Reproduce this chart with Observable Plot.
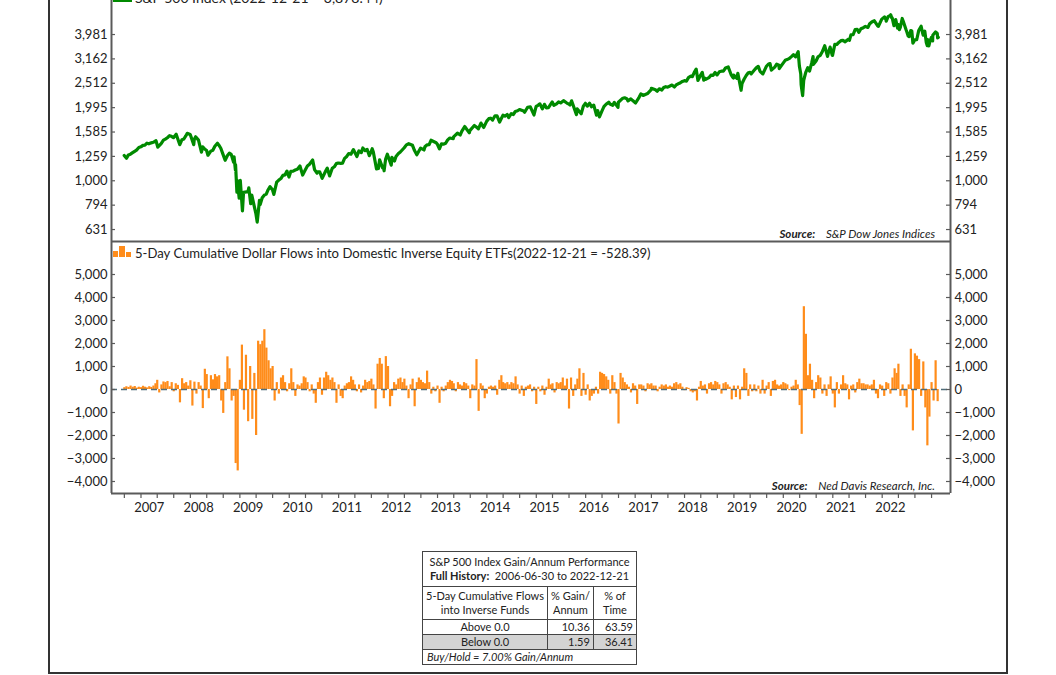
<!DOCTYPE html>
<html>
<head>
<meta charset="utf-8">
<script src="https://cdn.jsdelivr.net/npm/d3@7"></script>
<script src="https://cdn.jsdelivr.net/npm/@observablehq/plot@0.6"></script>
<style>
  html, body { margin: 0; padding: 0; background: #fff; }
  #wrap { position: relative; width: 1056px; height: 675px; overflow: hidden; font-family: Lato, "DejaVu Sans", sans-serif; color: #222; }
  #wrap svg { position: absolute; left: 0; overflow: visible; }
  .abs { position: absolute; white-space: nowrap; }
  .src { font-style: italic; font-size: 11.5px; color: #222; }
  .src b { font-weight: 700; margin-right: 8px; }
  table.perf { border-collapse: collapse; font-family: Lato, sans-serif; font-size: 11px; color: #222; }
  table.perf td { border: 1px solid #444; padding: 0 3px; line-height: 14px; }
</style>
</head>
<body>
<div id="wrap"></div>
<script>
// ---------------- data ----------------
// S&P 500: month-end closes and notable turning points
const spDates = ["2006-06-30","2006-07-17","2006-07-31","2006-08-31","2006-09-29","2006-10-31","2006-11-30","2006-12-29",
"2007-01-31","2007-02-20","2007-03-05","2007-03-30","2007-04-30","2007-05-31","2007-06-29","2007-07-19","2007-08-15","2007-08-31","2007-09-28","2007-10-09","2007-10-31","2007-11-26","2007-11-30","2007-12-10","2007-12-31",
"2008-01-22","2008-01-31","2008-02-29","2008-03-10","2008-03-31","2008-04-30","2008-05-19","2008-05-30","2008-06-30","2008-07-15","2008-07-31","2008-08-29","2008-09-15","2008-09-19","2008-09-29","2008-09-30","2008-10-10","2008-10-13","2008-10-27","2008-11-04","2008-11-20","2008-11-28","2008-12-31",
"2009-01-06","2009-01-20","2009-01-28","2009-02-27","2009-03-09","2009-03-26","2009-03-31","2009-04-30","2009-05-29","2009-06-12","2009-06-30","2009-07-10","2009-07-31","2009-08-31","2009-09-30","2009-10-30","2009-11-30","2009-12-31",
"2010-01-19","2010-02-08","2010-02-26","2010-03-31","2010-04-23","2010-05-07","2010-05-25","2010-05-28","2010-06-30","2010-07-02","2010-07-30","2010-08-26","2010-09-30","2010-10-29","2010-11-30","2010-12-31",
"2011-01-31","2011-02-18","2011-03-16","2011-03-31","2011-04-29","2011-05-31","2011-06-16","2011-06-30","2011-07-07","2011-08-08","2011-08-31","2011-09-22","2011-09-30","2011-10-03","2011-10-27","2011-11-25","2011-11-30","2011-12-30",
"2012-01-31","2012-02-29","2012-04-02","2012-04-30","2012-06-01","2012-06-29","2012-07-31","2012-08-31","2012-09-14","2012-10-31","2012-11-15","2012-11-30","2012-12-31",
"2013-01-31","2013-02-28","2013-03-28","2013-04-30","2013-05-21","2013-06-24","2013-06-28","2013-07-31","2013-08-30","2013-09-30","2013-10-31","2013-11-29","2013-12-31",
"2014-02-03","2014-02-28","2014-03-31","2014-04-30","2014-05-30","2014-06-30","2014-07-31","2014-08-29","2014-09-18","2014-10-15","2014-10-31","2014-11-28","2014-12-16","2014-12-31",
"2015-01-30","2015-02-27","2015-03-31","2015-04-30","2015-05-21","2015-06-30","2015-07-20","2015-08-25","2015-08-31","2015-09-29","2015-10-30","2015-11-30","2015-12-31",
"2016-01-20","2016-01-29","2016-02-11","2016-02-29","2016-03-31","2016-04-29","2016-05-31","2016-06-27","2016-06-30","2016-07-29","2016-08-31","2016-09-30","2016-11-04","2016-11-30","2016-12-30",
"2017-01-31","2017-02-28","2017-03-31","2017-04-28","2017-05-31","2017-06-30","2017-07-31","2017-08-31","2017-09-29","2017-10-31","2017-11-30","2017-12-29",
"2018-01-26","2018-02-08","2018-02-28","2018-03-23","2018-03-29","2018-04-30","2018-05-31","2018-06-29","2018-07-31","2018-08-31","2018-09-20","2018-10-29","2018-10-31","2018-11-23","2018-11-30","2018-12-24","2018-12-31",
"2019-01-31","2019-02-28","2019-03-29","2019-04-30","2019-05-31","2019-06-28","2019-07-26","2019-08-05","2019-08-30","2019-09-30","2019-10-31","2019-11-29","2019-12-31",
"2020-01-31","2020-02-19","2020-02-28","2020-03-23","2020-03-31","2020-04-30","2020-05-29","2020-06-08","2020-06-30","2020-07-31","2020-09-02","2020-09-23","2020-09-30","2020-10-30","2020-11-30","2020-12-31",
"2021-01-29","2021-02-26","2021-03-31","2021-04-30","2021-05-28","2021-06-30","2021-07-30","2021-08-31","2021-09-30","2021-10-29","2021-11-30","2021-12-31",
"2022-01-03","2022-01-27","2022-02-23","2022-02-28","2022-03-08","2022-03-29","2022-04-29","2022-05-20","2022-05-31","2022-06-16","2022-06-30","2022-07-29","2022-08-16","2022-08-31","2022-09-30","2022-10-12","2022-10-31","2022-11-30","2022-12-13","2022-12-21"];
const spValues = [1270,1236,1277,1304,1336,1378,1401,1418,
1438,1460,1374,1421,1482,1531,1503,1553,1406,1474,1527,1565,1549,1407,1481,1515,1468,
1310,1379,1331,1273,1323,1386,1426,1400,1280,1214,1267,1283,1193,1255,1106,1166,899,1003,848,1005,752,896,903,
935,805,874,735,677,832,798,873,919,946,919,879,987,1021,1057,1036,1096,1115,
1150,1056,1104,1169,1217,1111,1074,1089,1031,1023,1102,1047,1141,1183,1181,1258,
1286,1343,1257,1326,1364,1345,1268,1321,1353,1119,1219,1130,1131,1099,1285,1159,1247,1258,
1312,1366,1419,1398,1278,1362,1379,1407,1466,1412,1353,1416,1426,
1498,1515,1569,1598,1669,1573,1606,1686,1633,1682,1757,1806,1848,
1742,1859,1872,1884,1924,1960,1931,2003,2011,1862,2018,2068,1973,2059,
1995,2105,2068,2086,2131,2063,2128,1868,1972,1882,2079,2080,2044,
1859,1940,1829,1932,2060,2065,2097,2001,2099,2174,2171,2168,2085,2199,2239,
2279,2364,2363,2384,2412,2423,2470,2472,2519,2575,2648,2674,
2873,2581,2714,2588,2641,2648,2705,2718,2816,2902,2931,2641,2712,2633,2760,2351,2507,
2704,2784,2834,2946,2752,2942,3026,2845,2926,2977,3038,3141,3231,
3226,3386,2954,2237,2585,2912,3044,3232,3100,3271,3580,3237,3363,3270,3622,3756,
3714,3811,3973,4181,4204,4298,4395,4523,4308,4605,4567,4766,
4797,4327,4226,4374,4170,4632,4132,3901,4132,3667,3785,4130,4305,3955,3586,3577,3872,4080,4019,3878];

// S&P 500: additional mid-month readings
const spMidDates = ["2006-08-15","2006-09-15","2006-10-16","2006-11-15","2006-12-15",
"2007-01-16","2007-04-16","2007-05-15","2007-06-14","2007-09-14",
"2008-02-15","2008-04-15","2008-06-13","2008-08-15",
"2009-04-15","2009-05-15","2009-08-14","2009-09-15","2009-10-15","2009-11-13","2009-12-15",
"2010-03-15","2010-06-14","2010-08-09","2010-09-15","2010-10-15","2010-11-16","2010-12-15",
"2011-01-14","2011-04-18","2011-05-16","2011-07-15","2011-08-22","2011-10-14","2011-12-19",
"2012-01-17","2012-03-16","2012-05-15","2012-07-24","2012-08-15","2012-10-22","2012-12-14",
"2013-01-15","2013-02-25","2013-04-18","2013-08-15","2013-09-18","2013-10-08","2013-11-15","2013-12-13",
"2014-01-15","2014-03-14","2014-04-11","2014-05-15","2014-06-16","2014-08-07","2014-11-14",
"2015-01-15","2015-03-11","2015-04-15","2015-06-15","2015-07-08","2015-10-15","2015-11-13","2015-12-14",
"2016-03-15","2016-04-20","2016-05-19","2016-08-15","2016-09-09","2016-10-14","2016-12-13",
"2017-01-19","2017-03-01","2017-04-13","2017-05-17","2017-06-15","2017-08-18","2017-09-15","2017-10-16","2017-11-15","2017-12-18",
"2018-01-12","2018-03-12","2018-04-06","2018-05-15","2018-06-15","2018-07-16","2018-08-15","2018-10-11","2018-10-24","2018-12-07",
"2019-01-15","2019-02-15","2019-03-08","2019-04-15","2019-05-13","2019-06-03","2019-07-15","2019-09-13","2019-10-02","2019-11-15","2019-12-13",
"2020-01-15","2020-03-09","2020-03-12","2020-03-16","2020-04-15","2020-05-13","2020-06-11","2020-07-15","2020-08-14","2020-10-12","2020-10-28","2020-11-16","2020-12-15",
"2021-01-15","2021-03-04","2021-03-15","2021-04-15","2021-05-12","2021-06-15","2021-07-19","2021-08-16","2021-09-03","2021-10-04","2021-11-18","2021-12-01","2021-12-15",
"2022-01-10","2022-01-14","2022-02-09","2022-03-15","2022-04-05","2022-04-26","2022-05-12","2022-06-08","2022-07-14","2022-08-26","2022-09-12","2022-09-23","2022-10-04","2022-10-21","2022-11-09","2022-11-10","2022-12-01","2022-12-16"];
const spMidValues = [1286,1321,1369,1397,1427,
1431,1468,1502,1522,1484,
1349,1334,1360,1298,
852,882,1004,1052,1096,1093,1107,
1150,1089,1127,1125,1176,1178,1235,
1293,1305,1329,1316,1123,1224,1205,
1293,1404,1330,1338,1405,1433,1413,
1472,1488,1541,1661,1725,1655,1798,1775,
1848,1841,1815,1870,1937,1910,2039,
1992,2040,2106,2084,2046,2023,2023,2012,
2015,2102,2040,2190,2128,2133,2271,
2263,2396,2329,2357,2432,2426,2500,2557,2565,2690,
2786,2783,2604,2711,2780,2798,2818,2728,2656,2633,
2610,2775,2743,2905,2812,2744,3014,3007,2887,3120,3169,
3289,2747,2481,2386,2783,2820,3002,3227,3373,3534,3271,3627,3695,
3768,3768,3969,4170,4063,4246,4258,4479,4535,4300,4704,4513,4710,
4670,4663,4587,4262,4525,4175,3930,4115,3790,4058,4110,3693,3791,3752,3748,3956,4076,3852];

// 5-day cumulative flows ($M), semi-monthly readings (1st and 16th of each month) from 2006-07-01
const flowStart = "2006-07-01";
const flowValues = [
80,120,90,150,100,130,60,100,80,140,100,70,120,90,150,
250,400,-150,200,330,300,350,120,300,-100,250,180,-580,470,250,
300,150,380,-720,320,-200,300,150,-830,880,650,-400,600,420,650,
550,600,-500,-1040,300,1420,900,-500,-300,-3220,-3540,400,1930,-900,1490,
-1400,1000,-1300,700,-2000,2100,1950,2100,2600,1800,1250,900,1000,-500,300,
-200,500,600,300,-100,250,900,300,-300,200,150,250,550,500,300,
-100,200,-200,-600,300,500,-250,500,750,
600,400,500,300,-600,200,-300,-400,150,250,300,550,400,200,-100,
200,-150,150,400,300,350,450,200,-850,1100,1350,1100,-400,1430,1000,
-750,-300,300,200,450,500,300,450,150,-400,200,450,-750,300,500,
400,300,250,800,300,-200,100,-100,150,-600,100,-100,150,300,400,
350,250,-100,300,200,150,300,250,150,-400,200,150,1300,-950,250,
150,-400,-200,100,150,100,150,-250,400,600,300,250,300,200,300,
250,550,200,-200,150,-300,100,150,200,-100,
100,-650,100,-100,150,-250,100,450,200,250,-150,300,250,300,500,
150,450,-850,500,-300,200,450,900,-300,700,-250,200,-500,-300,-200,
100,-200,750,700,650,550,400,-200,600,300,-200,-1500,700,500,300,
200,100,-150,250,150,-650,200,200,150,-100,250,200,250,150,150,
-100,100,200,150,200,100,150,100,250,300,200,250,100,-50,80,
50,-100,-150,-100,-500,100,350,150,200,-200,250,300,200,350,300,
200,-200,250,300,200,100,-450,150,-350,150,-450,100,900,700,
-300,200,-100,200,-100,150,-200,400,-200,150,300,-300,350,400,200,
150,200,300,250,200,-50,100,150,400,200,-700,-1950,3600,2400,600,
1100,400,-400,300,600,500,-200,200,-300,200,550,-200,-800,300,-200,
200,600,250,200,-450,150,200,-150,300,450,250,250,200,200,150,
200,400,-200,-400,200,150,-300,300,250,-200,500,900,700,1100,-300,
200,-300,-800,200,1750,-1800,1550,1450,1300,-300,1200,-800,-2450,-1200,300,
-500,1250,-528];

const spTicks = [630.957, 794.328, 1000, 1258.925, 1584.893, 1995.262, 2511.886, 3162.278, 3981.072];
const spTickLabels = ["631","794","1,000","1,259","1,585","1,995","2,512","3,162","3,981"];
const flowTicks = [-4000,-3000,-2000,-1000,0,1000,2000,3000,4000,5000];
const yearLabels = [2007,2008,2009,2010,2011,2012,2013,2014,2015,2016,2017,2018,2019,2020,2021,2022];

const spTitle = "S&P 500 Index (2022-12-21 = 3,878.44)";
const flowTitle = "5-Day Cumulative Dollar Flows into Domestic Inverse Equity ETFs(2022-12-21 = -528.39)";

// ---------------- build ----------------
const parse = d3.utcParse("%Y-%m-%d");
const sp = spDates.map((d, i) => ({date: parse(d), value: spValues[i]}))
  .concat(spMidDates.map((d, i) => ({date: parse(d), value: spMidValues[i]})))
  .sort((a, b) => a.date - b.date);
const fs = parse(flowStart);
const flows = flowValues.map((v, i) => ({date: d3.utcDay.offset(d3.utcMonth.offset(fs, Math.floor(i / 2)), (i % 2) * 15), value: v}));
const spTickData = spTicks.map((v, i) => ({v, label: spTickLabels[i]}));
const flowTickData = flowTicks.map(v => ({v, label: d3.format(",")(v)}));

const xDomain = [parse("2006-03-28"), parse("2023-03-21")];
const tickDates = d3.utcMonth.range(parse("2006-07-01"), parse("2023-01-01"), 4);
const yearDates = yearLabels.map(y => new Date(Date.UTC(y, 0, 1)));

const GREEN = "#008a00", ORANGE = "#ff8c1a", AX = "#5a5a5a";
const W = 1056, ML = 111, MR = 106;
const INNER = W - ML - MR;   // plot area width
const TICK = 4;              // inward tick length
const style = {fontFamily: "Lato, sans-serif", fontSize: "13px", color: "#222", background: "transparent"};

function yTickMarks(data) {
  return [
    Plot.tickY(data, {y: "v", insetRight: INNER - TICK, stroke: AX, strokeWidth: 1.2}),
    Plot.tickY(data, {y: "v", insetLeft: INNER - TICK, stroke: AX, strokeWidth: 1.2}),
    Plot.text(data, {y: "v", text: "label", frameAnchor: "left", textAnchor: "end", dx: -4, fill: "#222", fontSize: 13}),
    Plot.text(data, {y: "v", text: "label", frameAnchor: "right", textAnchor: "start", dx: 4, fill: "#222", fontSize: 13})
  ];
}

const spMin = 563.5, spMax = 5490;
const topPlot = Plot.plot({
  width: W, height: 241, marginLeft: ML, marginRight: MR, marginTop: 0, marginBottom: 0,
  style,
  x: {type: "utc", domain: xDomain, axis: null},
  y: {type: "log", domain: [spMin, spMax], axis: null, label: null},
  marks: [
    Plot.line(sp, {x: "date", y: "value", stroke: GREEN, strokeWidth: 3.2, strokeLinejoin: "round"}),
    Plot.ruleY([spMin], {stroke: AX, strokeWidth: 2}),
    Plot.ruleX([xDomain[0], xDomain[1]], {stroke: AX, strokeWidth: 2}),
    ...yTickMarks(spTickData)
  ]
});
topPlot.style.top = "0px";

const fMin = -4522, fMax = 6435;
const botPlot = Plot.plot({
  width: W, height: 290, marginLeft: ML, marginRight: MR, marginTop: 0, marginBottom: 38,
  style,
  x: {type: "utc", domain: xDomain, axis: null},
  y: {domain: [fMin, fMax], axis: null, label: null},
  marks: [
    Plot.ruleX(flows, {x: "date", y1: 0, y2: "value", stroke: ORANGE, strokeWidth: 2.2}),
    Plot.ruleY([0], {stroke: "#4f6d7a", strokeWidth: 1.5, strokeDasharray: "6,4"}),
    Plot.ruleY([fMin], {stroke: AX, strokeWidth: 2}),
    Plot.ruleX([xDomain[0], xDomain[1]], {stroke: AX, strokeWidth: 2}),
    ...yTickMarks(flowTickData),
    Plot.axisX(tickDates, {anchor: "bottom", tickSize: 5, tickFormat: () => "", stroke: AX, strokeWidth: 1.2}),
    Plot.axisX(yearDates, {anchor: "bottom", tickSize: 0, tickPadding: 9, tickFormat: d3.utcFormat("%Y"), label: null})
  ]
});
botPlot.style.top = "241px";

const wrap = document.getElementById("wrap");

// outer frame
const frame = document.createElement("div");
frame.className = "abs";
Object.assign(frame.style, {left: "48px", top: "-30px", width: "956px", height: "700px", border: "2px solid #333"});
wrap.appendChild(frame);

wrap.appendChild(topPlot);
wrap.appendChild(botPlot);

// legends
const lg1 = document.createElement("div");
lg1.className = "abs";
lg1.style.cssText = "left:113px;top:-1px;width:19px;height:3px;background:" + GREEN;
wrap.appendChild(lg1);
const lt1 = document.createElement("div");
lt1.className = "abs";
lt1.style.cssText = "left:135px;top:-9px;font-size:14px;line-height:14px;";
lt1.textContent = spTitle;
wrap.appendChild(lt1);

const icon = document.createElement("div");
icon.className = "abs";
icon.style.cssText = "left:113px;top:246px;width:19px;height:11px;";
icon.innerHTML = '<div style="position:absolute;left:0;bottom:0;width:5px;height:6px;background:' + ORANGE + '"></div>' +
  '<div style="position:absolute;left:6px;bottom:0;width:6px;height:11px;background:' + ORANGE + '"></div>' +
  '<div style="position:absolute;left:13px;bottom:0;width:5px;height:5px;background:' + ORANGE + '"></div>';
wrap.appendChild(icon);
const lt2 = document.createElement("div");
lt2.className = "abs";
lt2.style.cssText = "left:135px;top:245px;font-size:13.1px;line-height:16px;";
lt2.textContent = flowTitle;
wrap.appendChild(lt2);

// sources
const s1 = document.createElement("div");
s1.className = "abs src";
s1.style.cssText = "right:121px;top:227px;";
s1.innerHTML = "<b>Source:</b> S&amp;P Dow Jones Indices";
wrap.appendChild(s1);
const s2 = document.createElement("div");
s2.className = "abs src";
s2.style.cssText = "right:121px;top:479px;";
s2.innerHTML = "<b>Source:</b> Ned Davis Research, Inc.";
wrap.appendChild(s2);

// table
const tbl = document.createElement("div");
tbl.className = "abs";
tbl.style.cssText = "left:422px;top:551px;";
tbl.innerHTML = `
<table class="perf" style="width:215px;border:1.5px solid #333;">
 <tr style="height:35px;"><td colspan="3" style="text-align:center;">S&amp;P 500 Index Gain/Annum Performance<br><b>Full History:</b>&nbsp;&nbsp;2006-06-30 to 2022-12-21</td></tr>
 <tr style="height:33px;"><td style="text-align:center;width:120px;padding:0 2px;">5-Day Cumulative Flows<br>into Inverse Funds</td><td style="text-align:center;width:38px;">% Gain/<br>Annum</td><td style="text-align:center;">% of<br>Time</td></tr>
 <tr style="height:15px;"><td style="text-align:center;">Above 0.0</td><td style="text-align:right;">10.36</td><td style="text-align:right;">63.59</td></tr>
 <tr style="height:15px;background:#d3d3d3;"><td style="text-align:center;">Below 0.0</td><td style="text-align:right;">1.59</td><td style="text-align:right;">36.41</td></tr>
 <tr style="height:15px;"><td colspan="3" style="font-style:italic;padding:0 4px;">Buy/Hold = 7.00% Gain/Annum</td></tr>
</table>`;
wrap.appendChild(tbl);
</script>
</body>
</html>
